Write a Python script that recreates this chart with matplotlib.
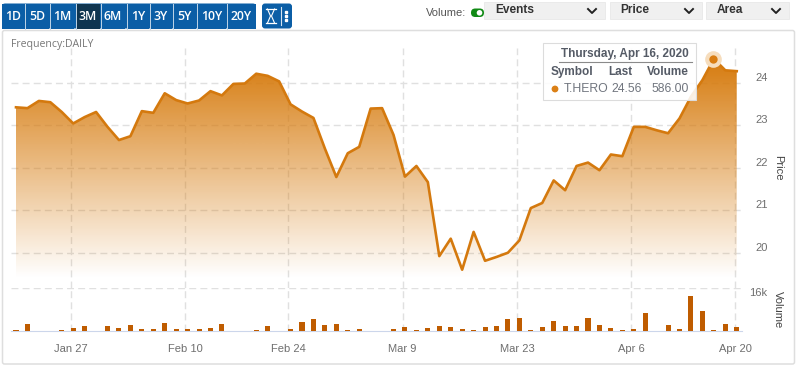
import numpy as np
import matplotlib
matplotlib.use('Agg')
import matplotlib.pyplot as plt
from matplotlib.patches import FancyBboxPatch, Rectangle, Circle
from matplotlib.colors import LinearSegmentedColormap

plt.rcParams['font.family'] = ['Liberation Sans', 'DejaVu Sans']

# daily close for T.HERO, Jan 21 to Apr 20 2020 (64 trading days)
price = [23.42, 23.40, 23.57, 23.54, 23.31, 23.04, 23.19, 23.31, 22.96, 22.65,
         22.74, 23.33, 23.29, 23.75, 23.59, 23.51, 23.58, 23.80, 23.70, 23.97,
         23.98, 24.21, 24.16, 24.03, 23.49, 23.32, 23.17, 22.45, 21.78, 22.34,
         22.49, 23.39, 23.40, 22.77, 21.79, 22.04, 21.66, 19.92, 20.33, 19.60,
         20.49, 19.81, 19.90, 20.00, 20.29, 21.05, 21.17, 21.70, 21.47, 22.04,
         22.12, 21.94, 22.31, 22.27, 22.96, 22.96, 22.88, 22.81, 23.16, 23.67,
         24.06, 24.56, 24.29, 24.27]
volume = [490, 2700, 0, 0, 370, 1100, 1970, 0, 1970, 1350,
          2340, 740, 740, 2950, 740, 980, 740, 1350, 2580, 0,
          0, 370, 1970, 0, 980, 3320, 4430, 2340, 2580, 370,
          740, 0, 0, 980, 1600, 370, 1350, 1970, 1600, 740,
          370, 1600, 1970, 4430, 4800, 370, 1600, 3810, 1970, 1970,
          4800, 2340, 1350, 370, 740, 6640, 0, 2340, 740, 13160,
          7380, 586, 2700, 1600]
days = np.arange(len(price))

date_ticks = [4.8, 14.8, 23.8, 33.8, 43.8, 53.8, 62.85]
date_labels = ['Jan 27', 'Feb 10', 'Feb 24', 'Mar 9', 'Mar 23', 'Apr 6', 'Apr 20']
price_ticks = [20, 21, 22, 23, 24]
peak = 61

ranges = ['1D', '5D', '1M', '3M', '6M', '1Y', '3Y', '5Y', '10Y', '20Y']
range_left = [2, 25.5, 50, 76, 101, 127, 150, 173, 197, 227]
range_right = [24.7, 49, 74, 100, 125, 149, 172, 196, 226, 256]

W, H = 800, 367
LINE = '#D4790E'
GRID = '#E0E0E0'
TICK = '#6E6E6E'
DASH = (0, (5, 3))


def px_axes(left, top, right, bottom):
    return fig.add_axes([left / W, 1 - bottom / H, (right - left) / W, (bottom - top) / H])


fig = plt.figure(figsize=(8, 3.67), dpi=100)

x0 = -0.437
x1 = 63.46

# price panel
ax = px_axes(11, 48, 742, 288)
ax.set_xlim(x0, x1)
ax.set_ylim(19.17, 24.815)
ax.patch.set_alpha(0)
for s in ax.spines.values():
    s.set_visible(False)
ax.set_yticks(price_ticks)
ax.set_xticks(date_ticks)
ax.yaxis.tick_right()
ax.tick_params(axis='both', length=0, labelbottom=False)
ax.tick_params(axis='y', pad=10, labelsize=8, labelcolor=TICK)
for t in ax.get_yticklabels():
    t.set_va('bottom')
ax.grid(True, color=GRID, lw=1, linestyle=DASH)
ax.set_axisbelow(True)

# gradient below the line
cmap = LinearSegmentedColormap.from_list('fade', [(0.84, 0.48, 0.05, 1), (0.84, 0.48, 0.05, 0)])
grad = np.linspace(0, 1, 256).reshape(-1, 1)
im = ax.imshow(grad, cmap=cmap, aspect='auto', extent=(x0, x1, 19.4, 24.56), origin='upper', zorder=2)
poly = ax.fill_between(days, price, 19.17, color='none')
clip = poly.get_paths()[0]
im.set_clip_path(clip, transform=ax.transData)
ax.set_xlim(x0, x1)
ax.set_ylim(19.17, 24.815)

ax.plot(days, price, color=LINE, lw=1.9, solid_joinstyle='round', zorder=3)
ax.plot(days[peak] - 0.08, price[peak], 'o', ms=12, color='#F6DDBD', mec='none', zorder=4, clip_on=False)
ax.plot(days[peak] - 0.08, price[peak], 'o', ms=6, color='#D97D12', mec='none', zorder=5, clip_on=False)

# volume panel
ax2 = px_axes(11, 288, 742, 331.3)
ax2.set_xlim(x0, x1)
ax2.set_ylim(0, 16000)
ax2.patch.set_alpha(0)
for s in ax2.spines.values():
    s.set_visible(False)
ax2.spines['bottom'].set_visible(True)
ax2.spines['bottom'].set_color('#CCD6EB')
ax2.set_xticks(date_ticks)
ax2.set_xticklabels(date_labels)
ax2.set_yticks([16000])
ax2.set_yticklabels(['16k'])
ax2.yaxis.tick_right()
ax2.tick_params(axis='both', length=0, labelsize=8, labelcolor=TICK)
ax2.tick_params(axis='x', pad=9)
ax2.tick_params(axis='y', pad=5)
for t in ax2.get_yticklabels():
    t.set_va('top')
ax2.grid(True, color=GRID, lw=1, linestyle=DASH)
ax2.set_axisbelow(True)
ax2.bar(days, volume, width=0.44, color='#BF5C00', zorder=3)

# everything around the plot, in pixel coordinates
ov = fig.add_axes([0, 0, 1, 1], zorder=10)
ov.set_xlim(0, W)
ov.set_ylim(H, 0)
ov.axis('off')
ov.patch.set_alpha(0)

ov.add_patch(FancyBboxPatch((2.5, 30.5), 792, 333.5, boxstyle='round,pad=0,rounding_size=2',
                            fc='none', ec='#DEDEDE', lw=1.1))
ov.text(11, 44.5, 'Frequency:DAILY', fontsize=7.6, color='#777777', va='center', family='Open Sans')
ov.text(778, 168, 'Price', fontsize=8, color='#444444', rotation=270, ha='center', va='center')
ov.text(778, 310, 'Volume', fontsize=8, color='#444444', rotation=270, ha='center', va='center')

# range buttons
ov.add_patch(FancyBboxPatch((2, 3.5), 254, 25, boxstyle='round,pad=0,rounding_size=3', fc='#0B5EA6', ec='none'))
for i, lab in enumerate(ranges):
    fc = '#0F3550' if lab == '3M' else '#0B5EA6'
    ov.add_patch(Rectangle((range_left[i], 3.5), range_right[i] - range_left[i], 25, fc=fc, ec='none'))
    if i:
        ov.plot([range_left[i] - 0.5] * 2, [3.5, 28.5], color='#BFD5E8', lw=0.7)
    ov.text((range_left[i] + range_right[i]) / 2, 16.3, lab, color='white', fontsize=8.8,
            ha='center', va='center', family='Open Sans', fontweight='semibold')

ov.add_patch(FancyBboxPatch((262, 3.5), 30, 25, boxstyle='round,pad=0,rounding_size=3', fc='#0B5EA6', ec='none'))
# hourglass outline
ov.plot([266, 276], [9, 9], color='white', lw=0.9)
ov.plot([266, 276], [23, 23], color='white', lw=0.9)
ov.plot([267.5, 270.5, 267.5], [9, 16, 23], color='white', lw=0.8)
ov.plot([274.5, 271.5, 274.5], [9, 16, 23], color='white', lw=0.8)
ov.plot([281, 281], [7, 25], color='#D5E4F0', lw=0.8)
ov.plot([286, 286, 286], [12, 16, 20], 's', color='white', ms=1.8)

# toggle and drop downs
ov.text(466, 13.3, 'Volume:', fontsize=8, color='#555555', ha='right', va='center')
ov.add_patch(FancyBboxPatch((471, 8.5), 13, 8.5, boxstyle='round,pad=0,rounding_size=4.2', fc='#118A15', ec='none'))
ov.add_patch(Circle((479.5, 12.8), 2.8, fc='white', ec='none'))
for lab, left, right, tx in [('Events', 484, 605, 495), ('Price', 610, 702, 620), ('Area', 706, 789, 717)]:
    ov.add_patch(Rectangle((left, 2), right - left, 17, fc='#F0F0F0', ec='#E8E8E8', lw=0.6))
    ov.text(tx, 10.3, lab, fontsize=8.6, fontweight='bold', color='#333333', va='center')
    cx = right - 13
    ov.plot([cx - 4, cx, cx + 4], [9, 13, 9], color='#222222', lw=1.4)

# tooltip
ov.add_patch(Rectangle((543, 42.5), 153, 57, fc=(1, 1, 1, 0.88), ec='#DCDCDC', lw=0.8))
ov.text(689, 53.5, 'Thursday, Apr 16, 2020', fontsize=8.5, fontweight='bold', color='#555B66', ha='right', va='center')
ov.plot([559, 692], [62, 62], color='#8A8A8A', lw=0.8)
ov.text(551, 72, 'Symbol', fontsize=8.5, fontweight='bold', color='#555B66', va='center')
ov.text(632.5, 72, 'Last', fontsize=8.5, fontweight='bold', color='#555B66', ha='right', va='center')
ov.text(689, 72, 'Volume', fontsize=8.5, fontweight='bold', color='#555B66', ha='right', va='center')
ov.add_patch(Circle((555, 89), 3.4, fc='#DB8016', ec='none'))
ov.text(564, 88.5, 'T.HERO', fontsize=8.8, color='#70757E', va='center')
ov.text(642, 88.5, f'{price[peak]:.2f}', fontsize=8.8, color='#70757E', ha='right', va='center')
ov.text(689, 88.5, f'{volume[peak]:.2f}', fontsize=8.8, color='#70757E', ha='right', va='center')

fig.savefig('out.png', dpi=100)
